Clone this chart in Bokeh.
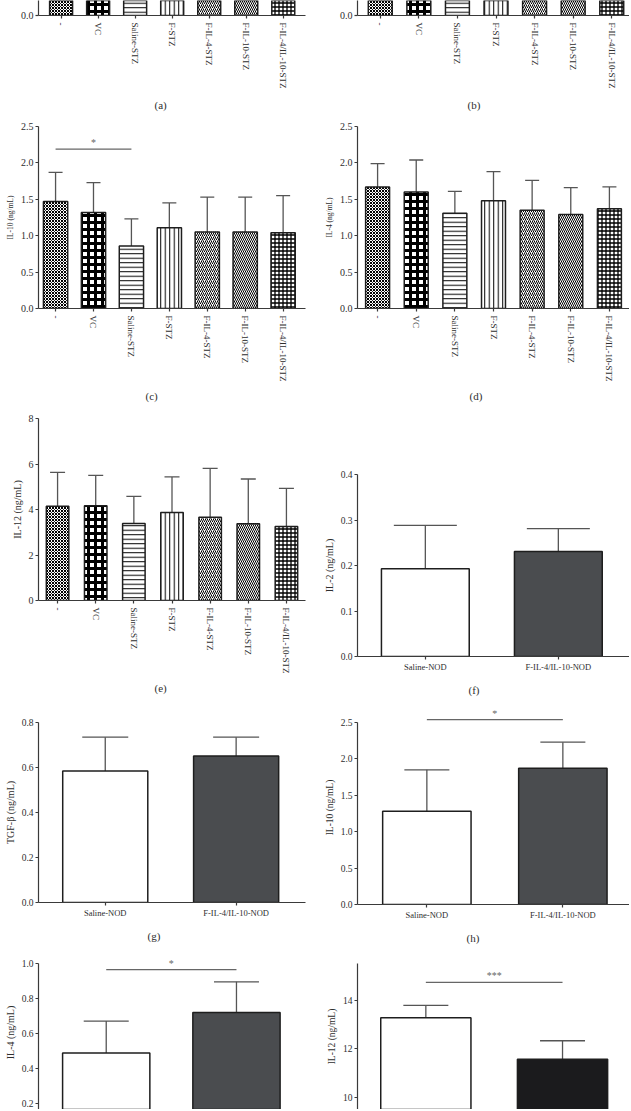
from bokeh.plotting import figure
from bokeh.layouts import row, column
from bokeh.models import (FixedTicker, PrintfTickFormatter, Range1d, ColumnDataSource,
                          Whisker, TeeHead)
from bokeh.core.properties import value
from bokeh.embed import file_html
from bokeh.resources import INLINE

# ---------------- data ----------------
stz_groups = ["-", "VC", "Saline-STZ", "F-STZ", "F-IL-4-STZ", "F-IL-10-STZ", "F-IL-4/IL-10-STZ"]
nod_groups = ["Saline-NOD", "F-IL-4/IL-10-NOD"]

# (a), (b): only the bottoms of the bars are inside the crop (values estimated)
a_mean = [0.30, 0.29, 0.27, 0.28, 0.28, 0.27, 0.28]
b_mean = [0.62, 0.60, 0.55, 0.58, 0.57, 0.56, 0.58]

c_mean = [1.47, 1.32, 0.86, 1.11, 1.05, 1.05, 1.04]
c_upper = [1.87, 1.73, 1.23, 1.45, 1.53, 1.53, 1.55]
c_sig_pair = (0, 2)
c_sig_y = 2.19
c_sig_label = "*"

d_mean = [1.67, 1.60, 1.31, 1.48, 1.35, 1.29, 1.37]
d_upper = [1.99, 2.04, 1.61, 1.88, 1.76, 1.66, 1.67]

e_mean = [4.14, 4.17, 3.39, 3.87, 3.66, 3.37, 3.25]
e_upper = [5.63, 5.50, 4.58, 5.43, 5.81, 5.34, 4.93]

f_mean = [0.193, 0.231]
f_upper = [0.288, 0.281]

g_mean = [0.585, 0.651]
g_upper = [0.735, 0.735]

h_mean = [1.28, 1.87]
h_upper = [1.85, 2.23]
h_sig_y = 2.54
h_sig_label = "*"

i_mean = [0.488, 0.720]
i_upper = [0.671, 0.895]
i_sig_y = 0.965
i_sig_label = "*"

j_mean = [13.28, 11.57]
j_upper = [13.79, 12.33]
j_sig_y = 14.74
j_sig_label = "***"

y_labels = {"c": "IL-10 (ng/mL)", "d": "IL-4 (ng/mL)", "e": "IL-12 (ng/mL)",
            "f": "IL-2 (ng/mL)", "g": "TGF-\u03b2 (ng/mL)", "h": "IL-10 (ng/mL)",
            "i": "IL-4 (ng/mL)", "j": "IL-12 (ng/mL)"}

# ---------------- styles ----------------
FONT = "Liberation Serif"
AXC = "#3a3a3a"
TXC = "#2e2e2e"
ERC = "#555555"
SIGC = "#666666"

stz_hatch = ["x", "+", "-", "|", "/", "\\", "+"]
stz_hscale = [3.0, 7.0, 4.5, 4.5, 4.0, 4.0, 4.0]
stz_hweight = [1.0, 3.0, 1.0, 1.0, 1.0, 1.0, 1.3]
nod_fill = ["white", "#4a4c4f"]
nod_fill_j = ["white", "#1b1b1d"]


def make_fig(w, h, xr, yr, mbl, mbt, mbb, mbr, caption=None, cap_off=0, cap_stand=8,
             tick_size="10px", ylab_size="10px"):
    kw = {}
    if caption:
        kw = dict(title=caption, title_location="below")
    p = figure(width=w, height=h, x_range=Range1d(*xr), y_range=Range1d(*yr),
               output_backend="svg", toolbar_location=None,
               min_border_left=mbl, min_border_top=mbt, min_border_bottom=mbb,
               min_border_right=mbr, **kw)
    if caption:
        p.title.text_font = FONT
        p.title.text_font_size = "11px"
        p.title.text_font_style = "normal"
        p.title.text_color = TXC
        p.title.align = "left"
        p.title.offset = cap_off
        p.title.standoff = cap_stand
    p.outline_line_color = None
    p.xgrid.visible = False
    p.ygrid.visible = False
    for ax in p.axis:
        ax.axis_line_color = AXC
        ax.axis_line_width = 1.2
        ax.major_tick_line_color = AXC
        ax.major_tick_line_width = 1.2
        ax.major_tick_out = 3
        ax.major_tick_in = 0
        ax.minor_tick_line_color = None
        ax.major_label_text_font = FONT
        ax.major_label_text_font_size = tick_size
        ax.major_label_text_color = TXC
        ax.axis_label_text_font = FONT
        ax.axis_label_text_font_size = ylab_size
        ax.axis_label_text_font_style = "normal"
        ax.axis_label_text_color = TXC
        ax.major_label_standoff = 2
        ax.axis_label_standoff = 3
    return p


def set_y(p, ticks, fmt, label=None, bounds=None):
    ya = p.yaxis[0]
    ya.ticker = FixedTicker(ticks=ticks)
    ya.formatter = PrintfTickFormatter(format=fmt)
    if label:
        ya.axis_label = label
    if bounds:
        ya.bounds = bounds


def set_x(p, groups, vertical, show=True, size="9px"):
    xa = p.xaxis[0]
    if not show:
        xa.visible = False
        return
    xa.ticker = FixedTicker(ticks=list(range(len(groups))))
    xa.major_label_overrides = {i: g for i, g in enumerate(groups)}
    xa.major_label_text_font_size = size
    if vertical:
        xa.major_label_orientation = "vertical"
        xa.major_label_standoff = 4


def stz_bars(p, mean, upper, width, cap):
    xs = list(range(len(mean)))
    src = ColumnDataSource(dict(x=xs, top=mean, hp=stz_hatch, hs=stz_hscale, hw=stz_hweight))
    p.vbar(x="x", top="top", bottom=0, width=width, source=src, fill_color="white",
           hatch_pattern="hp", hatch_scale="hs", hatch_weight="hw", hatch_color="black",
           line_color="#1e1e1e", line_width=1.5)
    if upper is not None:
        wsrc = ColumnDataSource(dict(x=xs, top=mean, up=upper))
        p.add_layout(Whisker(source=wsrc, base="x", lower="top", upper="up", dimension="height",
                             line_color=ERC, line_width=1.3, lower_head=None,
                             upper_head=TeeHead(size=cap, line_color=ERC, line_width=1.3)))


def nod_bars(p, mean, upper, width, cap, fills):
    xs = list(range(len(mean)))
    src = ColumnDataSource(dict(x=xs, top=mean, fc=fills))
    p.vbar(x="x", top="top", bottom=0, width=width, source=src, fill_color="fc",
           line_color="#1e1e1e", line_width=1.5)
    wsrc = ColumnDataSource(dict(x=xs, top=mean, up=upper))
    p.add_layout(Whisker(source=wsrc, base="x", lower="top", upper="up", dimension="height",
                         line_color=ERC, line_width=1.3, lower_head=None,
                         upper_head=TeeHead(size=cap, line_color=ERC, line_width=1.3)))


def sig(p, pair, y, label):
    p.segment(x0=[pair[0]], y0=[y], x1=[pair[1]], y1=[y], line_color=SIGC, line_width=1.3)
    p.text(x=[(pair[0] + pair[1]) / 2], y=[y], text=[label], text_font=value(FONT),
           text_font_size="10px", text_color=SIGC, text_align="center",
           text_baseline="bottom", y_offset=-1)


LW, RW = 315, 314

# ---------- left column ----------
fa = make_fig(LW, 120, (-0.61, 6.6), (0, 0.015), 32, 0, 105, 2, "(a)", 116, 10)
set_y(fa, [0, 0.5, 1.0], "%.1f")
set_x(fa, stz_groups, True)
stz_bars(fa, a_mean, None, 0.62, 14)

fc = make_fig(LW, 290, (-0.45, 6.59), (0, 2.5), 38, 6, 102, 2, "(c)", 107, 7,
              ylab_size="7.5px")
set_y(fc, [0, 0.5, 1.0, 1.5, 2.0, 2.5], "%.1f", y_labels["c"])
set_x(fc, stz_groups, True)
stz_bars(fc, c_mean, c_upper, 0.64, 14)
sig(fc, c_sig_pair, c_sig_y, c_sig_label)

fe = make_fig(LW, 303, (-0.5, 6.5), (0, 8), 32, 8, 113, 10, "(e)", 116, 6)
set_y(fe, [0, 2, 4, 6, 8], "%d", y_labels["e"])
set_x(fe, stz_groups, True)
stz_bars(fe, e_mean, e_upper, 0.59, 15)

fg = make_fig(LW, 235, (-0.51, 1.53), (0, 0.8), 36, 9, 44, 2, "(g)", 109, 14,
              tick_size="9.5px")
set_y(fg, [0, 0.2, 0.4, 0.6, 0.8], "%.1f", y_labels["g"])
set_x(fg, nod_groups, False, size="8.5px")
nod_bars(fg, g_mean, g_upper, 0.65, 46, nod_fill)

fi = make_fig(LW, 161, (-0.52, 1.53), (0.1657, 1.0457), 36, 7, 0, 2, tick_size="9.5px")
set_y(fi, [0.2, 0.4, 0.6, 0.8, 1.0], "%.1f", y_labels["i"], bounds=(0, 1.0))
set_x(fi, nod_groups, False, show=False)
nod_bars(fi, i_mean, i_upper, 0.67, 45, nod_fill)
sig(fi, (0, 1), i_sig_y, i_sig_label)

# ---------- right column ----------
fb = make_fig(RW, 120, (-0.59, 6.46), (0, 0.015), 39, 0, 105, 0, "(b)", 110, 10)
set_y(fb, [0, 0.5, 1.0], "%.1f")
set_x(fb, stz_groups, True)
stz_bars(fb, b_mean, None, 0.62, 14)

fd = make_fig(RW, 344, (-0.52, 6.52), (0, 2.5), 42, 6, 156, 0, "(d)", 112, 7,
              ylab_size="7.5px")
set_y(fd, [0, 0.5, 1.0, 1.5, 2.0, 2.5], "%.1f", y_labels["d"])
set_x(fd, stz_groups, True)
stz_bars(fd, d_mean, d_upper, 0.62, 14)

ff = make_fig(RW, 239, (-0.51, 1.535), (0, 0.4), 39, 10, 47, 0, "(f)", 111, 14,
              tick_size="9.5px")
set_y(ff, [0, 0.1, 0.2, 0.3, 0.4], "%.1f", y_labels["f"])
set_x(ff, nod_groups, False, size="8.5px")
nod_bars(ff, f_mean, f_upper, 0.66, 63, nod_fill)

fh = make_fig(RW, 253, (-0.51, 1.49), (0, 2.665), 42, 7, 52, 0, "(h)", 109, 14,
              tick_size="9.5px", ylab_size="9.5px")
set_y(fh, [0, 0.5, 1.0, 1.5, 2.0, 2.5], "%.1f", y_labels["h"], bounds=(0, 2.5))
set_x(fh, nod_groups, False, size="8.5px")
nod_bars(fh, h_mean, h_upper, 0.65, 45, nod_fill)
sig(fh, (0, 1), h_sig_y, h_sig_label)

fj = make_fig(RW, 153, (-0.5, 1.49), (9.49, 15.52), 42, 7, 0, 0, tick_size="9.5px",
              ylab_size="9.5px")
set_y(fj, [8, 10, 12, 14], "%d", y_labels["j"])
set_x(fj, nod_groups, False, show=False)
nod_bars(fj, j_mean, j_upper, 0.66, 45, nod_fill_j)
sig(fj, (0, 1), j_sig_y, j_sig_label)

layout = row(column(fa, fc, fe, fg, fi), column(fb, fd, ff, fh, fj))

open("out.html", "w").write(file_html(layout, INLINE))
